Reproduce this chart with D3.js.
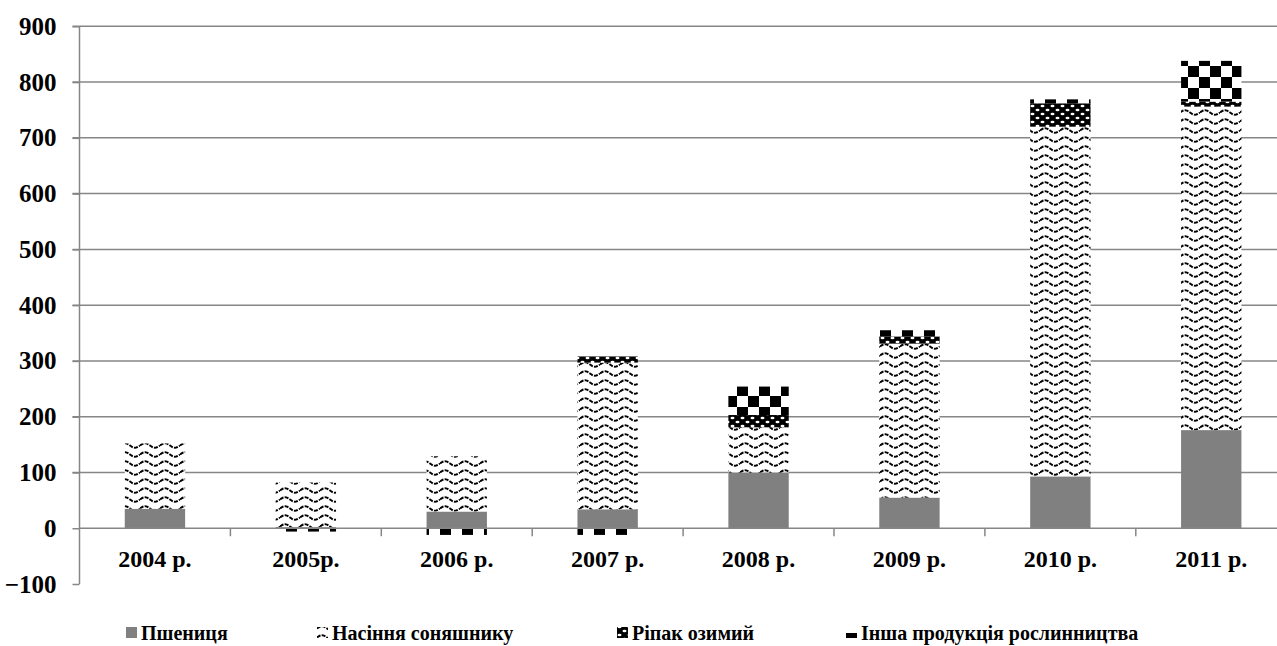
<!DOCTYPE html>
<html>
<head>
<meta charset="utf-8">
<script src="https://cdn.jsdelivr.net/npm/d3@7"></script>
<style>
  body { margin: 0; background: #fff; }
  svg { display: block; }
  svg text { font-family: "Liberation Serif", "Times New Roman", serif; font-weight: bold; fill: #000; }
</style>
</head>
<body>
<div id="chart"></div>
<script>
const years = ["2004 р.", "2005р.", "2006 р.", "2007 р.", "2008 р.", "2009 р.", "2010 р.", "2011 р."];
const wheat = [35, 2, 30, 34, 100, 55, 93, 176];
const sunflower = [117, 80, 99, 263, 81, 276, 627, 580];
const rapeseed = [0, 0, 0, 11, 22, 13, 42, 9];
const other = [0, -6, -12, -12, 51, 11, 7, 73];
const seriesNames = ["Пшениця", "Насіння соняшнику", "Ріпак озимий", "Інша продукція рослинництва"];
const yTicks = [-100, 0, 100, 200, 300, 400, 500, 600, 700, 800, 900];

const W = 1277, H = 646;
const margin = { top: 26.3, left: 79.5, bottom: 62 };
const plotW = 150.9 * years.length;
const plotBottom = H - margin.bottom;

const svg = d3.select("#chart").append("svg")
  .attr("width", W)
  .attr("height", H)
  .style("overflow", "hidden");

// fill patterns
const defs = svg.append("defs");

const wave = defs.append("pattern")
  .attr("id", "p-wave")
  .attr("patternUnits", "userSpaceOnUse")
  .attr("width", 20).attr("height", 9);
wave.append("rect").attr("width", 20).attr("height", 9).attr("fill", "#fff");
wave.append("path")
  .attr("d", d3.line().curve(d3.curveBasis)(d3.range(0, 21, 2).map(x => [x, 4.5 - 2.4 * Math.sin(x / 20 * 2 * Math.PI)])))
  .attr("fill", "none")
  .attr("stroke", "#000")
  .attr("stroke-width", 2)
  .attr("stroke-dasharray", "4,1.2");

const dots = defs.append("pattern")
  .attr("id", "p-dots")
  .attr("patternUnits", "userSpaceOnUse")
  .attr("width", 10).attr("height", 8);
dots.append("rect").attr("width", 10).attr("height", 8).attr("fill", "#000");
dots.append("ellipse").attr("cx", 2.5).attr("cy", 2).attr("rx", 2).attr("ry", 1.2).attr("fill", "#fff");
dots.append("ellipse").attr("cx", 7.5).attr("cy", 6).attr("rx", 2).attr("ry", 1.2).attr("fill", "#fff");

const check = defs.append("pattern")
  .attr("id", "p-check")
  .attr("patternUnits", "userSpaceOnUse")
  .attr("width", 22).attr("height", 22);
check.append("rect").attr("width", 22).attr("height", 22).attr("fill", "#fff");
check.append("rect").attr("width", 11).attr("height", 11).attr("fill", "#000");
check.append("rect").attr("x", 11).attr("y", 11).attr("width", 11).attr("height", 11).attr("fill", "#000");

const fills = ["#808080", "url(#p-wave)", "url(#p-dots)", "url(#p-check)"];

const x = d3.scaleBand()
  .domain(years)
  .range([margin.left, margin.left + plotW])
  .paddingInner(0.6)
  .paddingOuter(0.3);

const y = d3.scaleLinear()
  .domain([-100, 900])
  .range([plotBottom, margin.top]);

const axisColor = "#868686";

// gridlines
svg.append("g")
  .selectAll("line")
  .data(yTicks.filter(t => t > 0))
  .join("line")
  .attr("x1", margin.left - 7)
  .attr("x2", W)
  .attr("y1", d => y(d))
  .attr("y2", d => y(d))
  .attr("stroke", axisColor)
  .attr("stroke-width", 1.5);

// stacked bars (positive and negative stacked separately)
const data = years.map((yr, i) => ({
  year: yr,
  vals: [wheat[i], sunflower[i], rapeseed[i], other[i]]
}));

const rects = [];
data.forEach(d => {
  let pos = 0, neg = 0;
  d.vals.forEach((v, k) => {
    if (v >= 0) {
      rects.push({ year: d.year, k, y0: pos, y1: pos + v });
      pos += v;
    } else {
      rects.push({ year: d.year, k, y0: neg + v, y1: neg });
      neg += v;
    }
  });
});

svg.append("g")
  .selectAll("rect")
  .data(rects.filter(r => r.y1 - r.y0 > 0))
  .join("rect")
  .attr("x", r => x(r.year))
  .attr("width", x.bandwidth())
  .attr("y", r => y(r.y1))
  .attr("height", r => y(r.y0) - y(r.y1))
  .attr("fill", r => fills[r.k]);

// y axis
const yAxis = svg.append("g")
  .attr("transform", `translate(${margin.left},0)`)
  .call(d3.axisLeft(y).tickValues(yTicks).tickSize(7).tickPadding(16).tickFormat(d3.format("d")));
yAxis.select(".domain").attr("stroke", axisColor).attr("stroke-width", 1.5).attr("d", `M0,${plotBottom}V${margin.top}`);
yAxis.selectAll(".tick line").attr("stroke", axisColor).attr("stroke-width", 1.5);
yAxis.selectAll(".tick text")
  .style("font-size", "25px");

// x axis at zero
const xAxis = svg.append("g")
  .attr("transform", `translate(0,${y(0)})`);
xAxis.append("line")
  .attr("x1", margin.left).attr("x2", W)
  .attr("stroke", axisColor).attr("stroke-width", 1.5);
xAxis.selectAll(".xtick")
  .data(years.slice(1))
  .join("line")
  .attr("class", "xtick")
  .attr("x1", d => x(d) - x.step() * x.paddingInner() / 2)
  .attr("x2", d => x(d) - x.step() * x.paddingInner() / 2)
  .attr("y1", 0).attr("y2", 8)
  .attr("stroke", axisColor).attr("stroke-width", 1.5);
xAxis.selectAll(".xlabel")
  .data(years)
  .join("text")
  .attr("class", "xlabel")
  .attr("x", d => x(d) + x.bandwidth() / 2)
  .attr("y", 39)
  .attr("text-anchor", "middle")
  .style("font-size", "24px")
  .text(d => d);

// legend
const legendX = [126, 317, 617, 846];
const legend = svg.append("g")
  .selectAll("g")
  .data(seriesNames)
  .join("g")
  .attr("transform", (d, i) => `translate(${legendX[i]},633)`);
legend.append("rect")
  .attr("x", 0).attr("y", -6)
  .attr("width", 11).attr("height", 11)
  .attr("fill", (d, i) => fills[i]);
legend.append("text")
  .attr("x", 15)
  .attr("y", 7)
  .style("font-size", "20px")
  .text(d => d);
</script>
</body>
</html>
